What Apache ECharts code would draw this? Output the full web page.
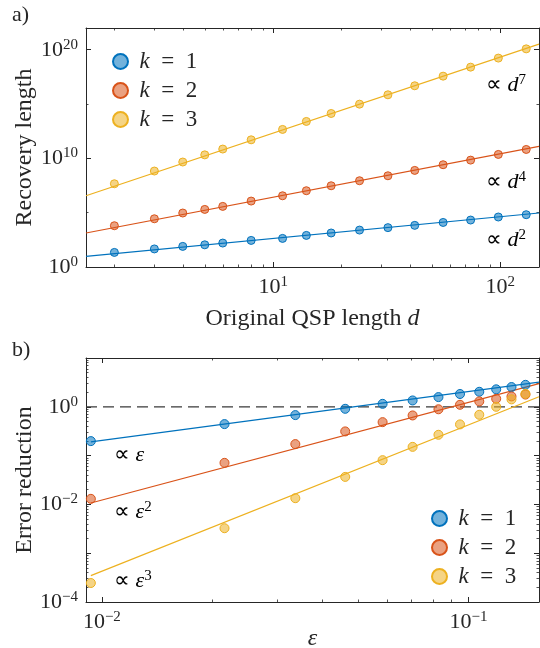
<!DOCTYPE html>
<html>
<head>
<meta charset="UTF-8">
<title>QSP recovery length / error reduction</title>
<script src="https://cdn.jsdelivr.net/npm/echarts@6/dist/echarts.min.js"></script>
<style>
html,body{margin:0;padding:0;background:#fff;}
#main{width:540px;height:648px;}
</style>
</head>
<body>
<div id="main"></div>
<script>
// ---- panel a) recovery length vs original QSP length d
var dVals = [2, 3, 4, 5, 6, 8, 11, 14, 18, 24, 32, 42, 56, 74, 98, 130];
var recK1 = [2.2e1, 4.6e1, 7.9e1, 1.1e2, 1.6e2, 2.8e2, 4.3e2, 8.1e2, 1.35e3, 2.5e3, 4.2e3, 6.8e3, 1.26e4, 2.1e4, 4.0e4, 6.5e4];
var recK2 = [6.3e3, 2.75e4, 9.3e4, 2.0e5, 3.8e5, 1.17e6, 3.6e6, 1.05e7, 3.0e7, 8.7e7, 2.5e8, 7.8e8, 2.6e9, 6.9e9, 2.3e10, 6.6e10];
var recK3 = [4.6e7, 6.8e8, 4.6e9, 2.1e10, 7.2e10, 5.1e11, 4.6e12, 2.5e13, 1.35e14, 9.8e14, 7.1e15, 4.8e16, 3.7e17, 2.5e18, 1.7e19, 1.2e20];
// fitted power laws (end points): d^2, d^4, d^7
var fitDx = [1.5, 148];
var fitRecK1 = [9.5, 9.3e4];
var fitRecK2 = [1.35e3, 1.28e11];
var fitRecK3 = [3.6e6, 3.3e20];

// ---- panel b) error reduction vs epsilon
var epsVals = [0.00933, 0.0216, 0.0337, 0.0461, 0.0583, 0.0704, 0.0828, 0.0948, 0.107, 0.119, 0.131, 0.143];
var errK1 = [0.198, 0.442, 0.676, 0.91, 1.15, 1.35, 1.58, 1.83, 2.03, 2.28, 2.54, 2.82];
var errK2 = [0.013, 0.071, 0.172, 0.313, 0.485, 0.665, 0.89, 1.10, 1.29, 1.46, 1.63, 1.78];
var errK3 = [0.000245, 0.00325, 0.0134, 0.0366, 0.0807, 0.151, 0.267, 0.436, 0.686, 1.0, 1.42, 1.85];
// fitted power laws (end points): eps, eps^2, eps^3
var fitEx = [0.00933, 0.1557];
var fitErrK1 = [0.191, 3.19];
var fitErrK2 = [0.0107, 2.98];
var fitErrK3 = [3.48e-4, 1.61];
var refLineX = [0.00905, 0.1557];
var refLineY = [1, 1];

// tick values
var aXMajor = [10, 100];
var aXMinor = [2, 3, 4, 5, 6, 7, 8, 9, 20, 30, 40, 50, 60, 70, 80, 90];
var aYLabels = [1, 1e10, 1e20];
var aYMinor = [1e5, 1e15];
var bXMajor = [0.01, 0.1];
var bXMinor = [0.02, 0.03, 0.04, 0.05, 0.06, 0.07, 0.08, 0.09];
var bYLabels = [1e-4, 1e-2, 1];
var bYMajor = [1e-4, 1e-3, 1e-2, 1e-1, 1, 10];
var bYMinor = [];
[1e-4, 1e-3, 1e-2, 1e-1, 1].forEach(function (p) {
    for (var m = 2; m <= 9; m++) bYMinor.push(p * m);
});

var names = ['k = 1', 'k = 2', 'k = 3'];
var cols = ['#0072BD', '#D95319', '#EDB120'];
var fills = ['rgba(0,114,189,0.55)', 'rgba(217,83,25,0.55)', 'rgba(237,177,32,0.55)'];

var FONT = 'Liberation Serif';
var INK = '#262626';

function zip(xs, ys) {
    return xs.map(function (x, i) { return [x, ys[i]]; });
}

var richTick = {
    b: {fontFamily: FONT, fontSize: 22, color: INK, lineHeight: 25},
    s: {fontFamily: FONT, fontSize: 15, color: INK, lineHeight: 13, verticalAlign: 'top'}
};
function powLabel(v) {
    var e = Math.round(Math.log10(v));
    return '{b|10}{s|' + String(e).replace('-', '\u2212') + '}';
}

function axisPair(grid, pos, min, max, major, minor, labels, extra) {
    var main = {
        type: 'log', gridIndex: grid, position: pos, min: min, max: max,
        axisLine: {show: true, onZero: false, lineStyle: {color: INK, width: 1}},
        axisTick: {inside: true, length: 5, customValues: major, lineStyle: {color: INK, width: 1}},
        axisLabel: labels ? {customValues: labels, formatter: powLabel, rich: richTick, margin: 8} : {show: false},
        splitLine: {show: false}
    };
    for (var k in extra) main[k] = extra[k];
    var sub = {
        type: 'log', gridIndex: grid, position: pos, min: min, max: max,
        axisLine: {show: false},
        axisTick: {inside: true, length: 2.5, customValues: minor, lineStyle: {color: INK, width: 0.8}},
        axisLabel: {show: false},
        splitLine: {show: false}
    };
    return [main, sub];
}

var nameStyle = {
    fontFamily: FONT, fontSize: 24, color: INK,
    rich: {i: {fontFamily: FONT, fontStyle: 'italic', fontSize: 24, color: INK}}
};
function axisName(txt, gap) {
    return {name: txt, nameLocation: 'middle', nameGap: gap, nameMoveOverlap: false, nameTextStyle: nameStyle};
}

var xAxes = []
    .concat(axisPair(0, 'bottom', 1.5, 148, aXMajor, aXMinor, aXMajor, axisName('Original QSP length {i|d}', 40)))
    .concat(axisPair(0, 'top', 1.5, 148, aXMajor, aXMinor, null, {}))
    .concat(axisPair(1, 'bottom', 0.00905, 0.1557, bXMajor, bXMinor, bXMajor, axisName('{i|\u03b5}', 25)))
    .concat(axisPair(1, 'top', 0.00905, 0.1557, bXMajor, bXMinor, null, {}));

var yAxes = []
    .concat(axisPair(0, 'left', 1, 1e22, aYLabels, aYMinor, aYLabels, axisName('Recovery length', 49)))
    .concat(axisPair(0, 'right', 1, 1e22, aYLabels, aYMinor, null, {}))
    .concat(axisPair(1, 'left', 1e-4, 10, bYMajor, bYMinor, bYLabels, axisName('Error reduction', 49)))
    .concat(axisPair(1, 'right', 1e-4, 10, bYMajor, bYMinor, null, {}));

var recData = [recK1, recK2, recK3];
var recFits = [fitRecK1, fitRecK2, fitRecK3];
var errData = [errK1, errK2, errK3];
var errFits = [fitErrK1, fitErrK2, fitErrK3];

var series = [];
for (var i = 0; i < 3; i++) {
    series.push({
        name: 'fitA' + i, type: 'line', xAxisIndex: 0, yAxisIndex: 0,
        data: zip(fitDx, recFits[i]), showSymbol: false, silent: true, z: 2,
        lineStyle: {color: cols[i], width: 1.2}
    });
    series.push({
        name: 'fitB' + i, type: 'line', xAxisIndex: 4, yAxisIndex: 4,
        data: zip(fitEx, errFits[i]), showSymbol: false, silent: true, z: 2,
        lineStyle: {color: cols[i], width: 1.2}
    });
}
series.push({
    name: 'ref', type: 'line', xAxisIndex: 4, yAxisIndex: 4,
    data: zip(refLineX, refLineY), showSymbol: false, silent: true, z: 1,
    lineStyle: {color: '#3a3a3a', width: 1.2, type: [11, 6]}
});
for (var j = 0; j < 3; j++) {
    series.push({
        name: names[j], type: 'scatter', xAxisIndex: 0, yAxisIndex: 0,
        data: zip(dVals, recData[j]), symbol: 'circle', symbolSize: 8, z: 3,
        itemStyle: {color: fills[j], borderColor: cols[j], borderWidth: 1, opacity: 1}
    });
    series.push({
        name: names[j], type: 'scatter', xAxisIndex: 4, yAxisIndex: 4,
        data: zip(epsVals, errData[j]), symbol: 'circle', symbolSize: 9, z: 3,
        itemStyle: {color: fills[j], borderColor: cols[j], borderWidth: 1, opacity: 1}
    });
}

var legendText = {
    fontFamily: FONT, fontSize: 22, color: INK, lineHeight: 22,
    rich: {
        i: {fontFamily: FONT, fontStyle: 'italic', fontSize: 23, color: INK, lineHeight: 22},
        r: {fontFamily: FONT, fontSize: 23, color: INK, lineHeight: 22}
    }
};
function legendFmt(n) { return '{i|k}{r|\u2002=\u2002' + n.slice(-1) + '}'; }
function legendAt(left, top) {
    return {
        data: names, orient: 'vertical', left: left, top: top, icon: 'circle', padding: 0,
        itemWidth: 28, itemHeight: 15, itemGap: 6, selectedMode: false,
        formatter: legendFmt, textStyle: legendText
    };
}

var richAnn = {
    a: {fontFamily: FONT, fontSize: 22, color: INK, lineHeight: 25},
    i: {fontFamily: FONT, fontStyle: 'italic', fontSize: 22, color: INK, lineHeight: 25},
    s: {fontFamily: FONT, fontSize: 15, color: INK, lineHeight: 13, verticalAlign: 'top'}
};
function ann(x, y, txt) {
    return {type: 'text', x: x, y: y, silent: true,
        style: {text: txt, rich: richAnn, verticalAlign: 'middle', align: 'left'}};
}
function panelTag(x, y, txt) {
    return {type: 'text', x: x, y: y, silent: true,
        style: {text: txt, font: '22px "Liberation Serif"', fill: INK, verticalAlign: 'middle'}};
}

var option = {
    backgroundColor: '#fff',
    animation: false,
    grid: [
        {left: 86, top: 28, width: 453, height: 239, outerBoundsMode: 'none'},
        {left: 86, top: 358, width: 453, height: 244, outerBoundsMode: 'none'}
    ],
    xAxis: xAxes,
    yAxis: yAxes,
    legend: [legendAt(112, 50), legendAt(431, 507)],
    series: series,
    graphic: [
        panelTag(12, 15, 'a)'),
        panelTag(12, 350, 'b)'),
        ann(486, 85, '{a|\u221d }{i|d}{s|7}'),
        ann(486, 182, '{a|\u221d }{i|d}{s|4}'),
        ann(486, 240, '{a|\u221d }{i|d}{s|2}'),
        ann(114, 455, '{a|\u221d }{i|\u03b5}'),
        ann(114, 512, '{a|\u221d }{i|\u03b5}{s|2}'),
        ann(114, 581, '{a|\u221d }{i|\u03b5}{s|3}')
    ]
};

var myChart = echarts.init(document.getElementById('main'), null, {renderer: 'canvas'});
myChart.setOption(option);
</script>
</body>
</html>
